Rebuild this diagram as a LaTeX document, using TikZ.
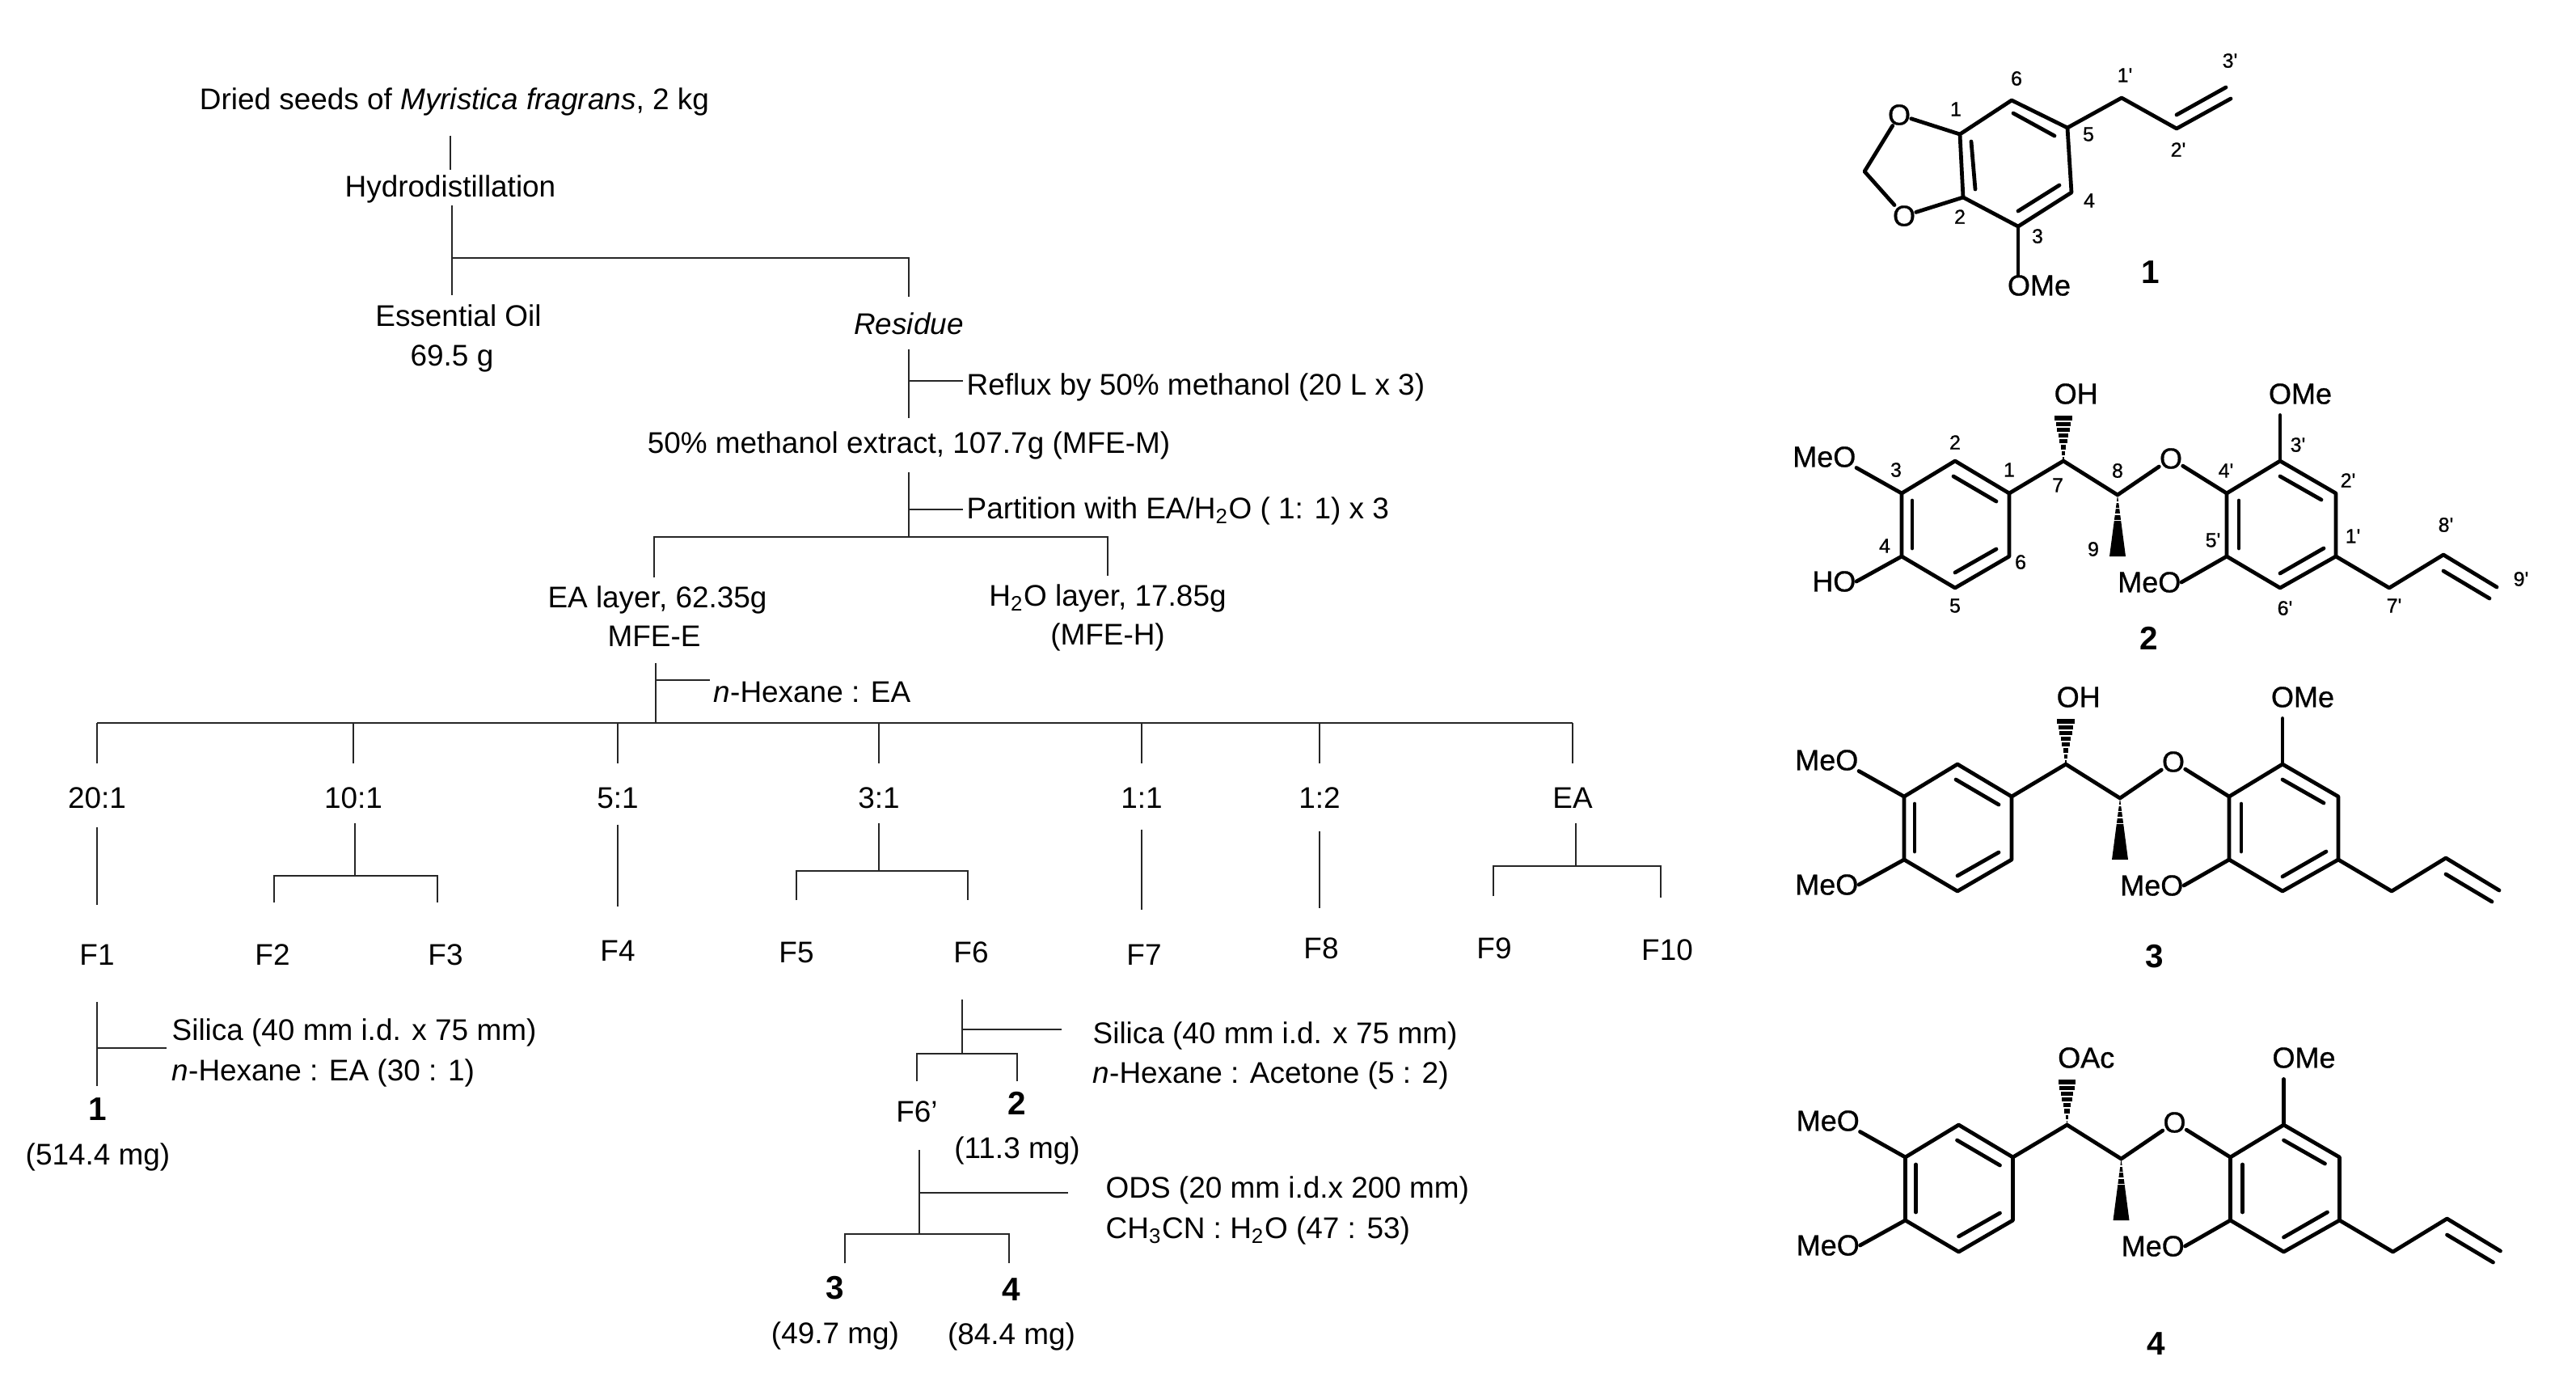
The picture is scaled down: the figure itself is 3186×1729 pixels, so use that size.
\documentclass[tikz,border=0pt]{standalone}
\usepackage{fontspec}
\setmainfont{Liberation Sans}
\newfontfamily\chemfont[FakeBold=0.8]{Liberation Sans}
\tikzset{
    txt/.style={font=\fontsize{10.5}{13}\selectfont, inner xsep=0pt, inner ysep=0.03cm, text height=0.295cm, text depth=0.065cm},
    cpd/.style={txt, font=\fontsize{11.5}{13}\selectfont\bfseries},
    flow/.style={line width=0.55pt, black!85},
    bond/.style={line width=1.35pt, line cap=round, line join=round},
    atm/.style={font=\fontsize{10.24}{12}\selectfont\chemfont, inner sep=0pt},
    num/.style={font=\fontsize{7.1}{9}\selectfont\chemfont, inner sep=0pt}
}
% one lignan: x shift, y shift, prefix, top group, lower left group
\newcommand{\lignan}[5]{
    \begin{scope}[shift={(#1,#2)}, name prefix=#3-]
        \coordinate (c1) at (2485,610); \coordinate (c2) at (2418,570);
        \coordinate (c3) at (2352,610); \coordinate (c4) at (2352,688);
        \coordinate (c5) at (2418,727); \coordinate (c6) at (2485,688);
        \coordinate (c7) at (2552,570); \coordinate (c8) at (2619,612);
        \coordinate (d1) at (2889,688); \coordinate (d2) at (2889,610);
        \coordinate (d3) at (2820,570); \coordinate (d4) at (2754,610);
        \coordinate (d5) at (2754,688); \coordinate (d6) at (2820,727);
        \coordinate (d7) at (2955,727); \coordinate (d8) at (3022,686);
        \coordinate (d9) at (3088,726);
        \node[atm] (ether) at (2685,567) {O};
        \node[atm, anchor=west] (top) at (2540,487) {#4};
        \node[atm] (ome) at (2845,487) {OMe};
        \node[atm, anchor=east] (meoa) at (2296,565) {MeO};
        \node[atm, anchor=east] (meob) at (2296,719) {#5};
        \node[atm, anchor=east] (meoc) at (2698,720) {MeO};
        % Rings and chain
        \draw[bond] (c1) -- (c2) -- (c3) -- (c4) -- (c5) -- (c6) -- cycle;
        \draw[bond] (d1) -- (d2) -- (d3) -- (d4) -- (d5) -- (d6) -- cycle;
        \draw[bond] (c1) -- (c7) -- (c8) -- (ether) -- (d4);
        \draw[bond] (d1) -- (d7) -- (d8) -- (d9);
        \draw[bond] (c3) -- (meoa.south east);
        \draw[bond] (c4) -- (meob.east);
        \draw[bond] (d5) -- (meoc.east);
        \draw[bond, shorten >=0.13cm] (d3) -- (d3 |- ome.south);
        % Double bonds
        \draw[bond] (2416,589) -- (2469,620);
        \draw[bond] (2365,619) -- (2365,678);
        \draw[bond] (2418,708) -- (2469,679);
        \draw[bond] (2820,589) -- (2871,618);
        \draw[bond] (2769,619) -- (2769,678);
        \draw[bond] (2820,709) -- (2874,678);
        \draw[bond] (3022,706) -- (3079,740);
        % Wedges
        \foreach \k in {0,...,7} {
            \pgfmathsetmacro\yy{517+\k*7.2}
            \pgfmathsetmacro\hw{11*(570-\yy)/55}
            \draw[line width=1.5pt] (2552-\hw,\yy) -- (2552+\hw,\yy);
        }
        \fill (c8) -- (2609,688) -- (2629,688) -- cycle;
        \foreach \k in {0,1,2,3}
            \draw[white, line width=0.45pt] (2600,621+\k*7.5) -- (2638,621+\k*7.5);
    \end{scope}
}
\begin{document}
\begin{tikzpicture}[x=0.01cm, y=-0.01cm]
    \useasboundingbox (0,0) rectangle (3186,1729);

    % Top of the scheme
    \node[txt] (dried) at (562,124) {Dried seeds of \textit{Myristica fragrans}, 2 kg};
    \node[txt] (hydro) at (557,232) {Hydrodistillation};
    \node[txt] (oil) at (567,392) {Essential Oil};
    \node[txt] (oilmass) at (559,441) {69.5 g};
    \node[txt] (res) at (1124,402) {\textit{Residue}};
    \node[txt, anchor=west] (reflux) at (1195,477) {Reflux by 50\% methanol (20 L x 3)};
    \node[txt] (extract) at (1124,549) {50\% methanol extract, 107.7g (MFE-M)};
    \node[txt, anchor=west] (part) at (1195,630) {Partition with EA/H\textsubscript{2}O ( 1: 1) x 3};
    \node[txt] (ealayer) at (813,740) {EA layer, 62.35g};
    \node[txt] (mfee) at (809,788) {MFE-E};
    \node[txt] (waterlayer) at (1370,738) {H\textsubscript{2}O layer, 17.85g};
    \node[txt] (mfeh) at (1370,786) {(MFE-H)};
    \node[txt, anchor=west] (hexea) at (882,857) {\textit{n}-Hexane : EA};

    \coordinate (j1) at (559,319);
    \coordinate (j2) at (1124,471);
    \coordinate (j3) at (1124,630);
    \coordinate (j4) at (1124,664);
    \coordinate (j5) at (811,841);
    \coordinate (j6) at (811,894);

    \draw[flow, shorten <=0.22cm] (hydro |- dried.south) -- (hydro.north);
    \draw[flow, shorten >=0.05cm] (j1 |- hydro.south) -- (j1 |- oil.north);
    \draw[flow, shorten >=0.13cm] (j1) -| (res.north);
    \draw[flow, shorten <=0.08cm, shorten >=0.1cm] (res.south) -- (extract.north);
    \draw[flow, shorten >=0.04cm] (j2) -- (j2 -| reflux.west);
    \draw[flow, shorten <=0.13cm] (extract.south) -- (j4);
    \draw[flow, shorten >=0.04cm] (j3) -- (j3 -| part.west);
    \draw[flow, shorten <=0.04cm, shorten >=0.04cm] (mfee |- ealayer.north) |- (j4) -| (waterlayer.north);
    \draw[flow, shorten <=0.1cm] (j6 |- mfee.south) -- (j6);
    \draw[flow, shorten >=0.04cm] (j5) -- (j5 -| hexea.west);

    % Solvent ratios and fractions
    \foreach \n/\x/\lab in {a/120/20:1, b/437/10:1, c/764/5:1, d/1087/3:1, e/1412/1:1, f/1632/1:2, g/1945/EA} {
        \node[txt] (r\n) at (\x,988) {\lab};
        \draw[flow, shorten >=0.22cm] (r\n |- j6) -- (r\n.north);
    }
    \draw[flow] (ra |- j6) -- (rg |- j6);
    \foreach \n/\x/\y in {1/120/1182, 2/337/1182, 3/551/1182, 4/764/1177, 5/985/1179, 6/1201/1179, 7/1415/1182, 8/1634/1174, 9/1848/1174, 10/2062/1176}
        \node[txt] (f\n) at (\x,\y) {F\n};

    % Direct to fraction
    \draw[flow, shorten <=0.13cm, shorten >=0.41cm] (ra.south) -- (ra.south |- f1.north);
    \draw[flow, shorten <=0.1cm, shorten >=0.34cm] (rc.south) -- (rc.south |- f4.north);
    \draw[flow, shorten <=0.16cm, shorten >=0.35cm] (re.south) -- (re.south |- f7.north);
    \draw[flow, shorten <=0.18cm, shorten >=0.29cm] (rf.south) -- (rf.south |- f8.north);

    % Split into two fractions
    \foreach \n/\l/\m/\r/\y/\fl/\fr in {b/339/439/541/1083/f2/f3, d/985/1087/1197/1077/f5/f6, g/1847/1949/2054/1071/f9/f10} {
        \coordinate (\n l) at (\l,\y);
        \coordinate (\n m) at (\m,\y);
        \coordinate (\n r) at (\r,\y);
        \draw[flow, shorten <=0.08cm] (\n m |- r\n.south) -- (\n m);
        \draw[flow, shorten <=0.44cm, shorten >=0.44cm] (\n l |- \fl.north) -- (\n l) -- (\n r) -- (\n r |- \fr.north);
    }

    % F1
    \node[txt, anchor=west] (silicaa) at (212,1275) {Silica (40 mm i.d. x 75 mm)};
    \node[txt, anchor=west] (hexa) at (212,1325) {\textit{n}-Hexane : EA (30 : 1)};
    \node[cpd] (one) at (121,1374) {1};
    \node[txt] (massa) at (121,1429) {(514.4 mg)};
    \coordinate (j7) at (120,1296);
    \draw[flow, shorten <=0.35cm, shorten >=0.09cm] (f1.south) -- (f1.south |- one.north);
    \draw[flow, shorten >=0.06cm] (j7) -- (j7 -| silicaa.west);

    % F6
    \node[txt, anchor=west] (silicab) at (1351,1279) {Silica (40 mm i.d. x 75 mm)};
    \node[txt, anchor=west] (hexb) at (1351,1328) {\textit{n}-Hexane : Acetone (5 : 2)};
    \node[txt] (fsub) at (1134,1376) {F6'};
    \node[cpd] (two) at (1258,1367) {2};
    \node[txt] (massb) at (1258,1421) {(11.3 mg)};
    \coordinate (j8) at (1190,1273);
    \coordinate (j9) at (1190,1303);
    \draw[flow, shorten <=0.35cm] (j9 |- f6.south) -- (j9);
    \draw[flow, shorten >=0.38cm] (j8) -- (j8 -| silicab.west);
    \draw[flow, shorten <=0.17cm, shorten >=0.08cm] (fsub.north) |- (j9) -| (two.north);

    % F6'
    \node[txt, anchor=west] (ods) at (1367,1470) {ODS (20 mm i.d.x 200 mm)};
    \node[txt, anchor=west] (acn) at (1367,1520) {CH\textsubscript{3}CN : H\textsubscript{2}O (47 : 53)};
    \node[cpd] (three) at (1033,1595) {3};
    \node[cpd] (four) at (1251,1597) {4};
    \node[txt] (massc) at (1033,1650) {(49.7 mg)};
    \node[txt] (massd) at (1251,1651) {(84.4 mg)};
    \coordinate (j10) at (1137,1475);
    \coordinate (j11) at (1137,1526);
    \coordinate (p1) at (1045,1526);
    \coordinate (p2) at (1248,1526);
    \draw[flow, shorten <=0.24cm] (j11 |- fsub.south) -- (j11);
    \draw[flow, shorten >=0.46cm] (j10) -- (j10 -| ods.west);
    \draw[flow, shorten <=0.11cm, shorten >=0.13cm] (p1 |- three.north) -- (p1) -- (p2) -- (p2 |- four.north);

    % Compound 1
    \coordinate (a1) at (2424,166); \coordinate (a2) at (2428,244);
    \coordinate (a3) at (2496,280); \coordinate (a4) at (2562,238);
    \coordinate (a5) at (2557,158); \coordinate (a6) at (2488,124);
    \coordinate (ach) at (2306,212); \coordinate (ab) at (2624,121);
    \coordinate (ac) at (2692,159); \coordinate (ad) at (2759,122);
    \node[atm] (oa) at (2349,142) {O};
    \node[atm] (ob) at (2355,267) {O};
    \node[atm] (omea) at (2522,353) {OMe};
    \draw[bond] (a1) -- (a2) -- (a3) -- (a4) -- (a5) -- (a6) -- cycle;
    \draw[bond] (a1) -- (oa) -- (ach) -- (ob) -- (a2);
    \draw[bond] (a5) -- (ab) -- (ac) -- (ad);
    \draw[bond] (a3) -- (a3 |- omea.north);
    \draw[bond] (2438,175) -- (2443,234);
    \draw[bond] (2490,140) -- (2541,168);
    \draw[bond] (2496,261) -- (2547,229);
    \draw[bond] (2692,142) -- (2753,108);
    \foreach \n/\x/\y/\lab in {a/2419/135/1, b/2494/97/6, c/2628/93/1', d/2758/75/3', e/2583/166/5, f/2694/185/2', g/2584/248/4, h/2424/268/2, i/2520/292/3}
        \node[num] (na\n) at (\x,\y) {\lab};
    \node[cpd] (labela) at (2660,339) {1};

    % Compounds 2 to 4
    \lignan{0}{0}{m2}{OH}{HO}
    \lignan{3}{375}{m3}{OH}{MeO}
    \lignan{4.5}{821}{m4}{OAc}{MeO}
    \foreach \n/\x/\y/\lab in {a/2345/581/3, b/2418/547/2, c/2485/581/1, d/2545/600/7, e/2619/582/8, f/2589/679/9, g/2331/675/4, h/2499/695/6, i/2418/749/5, j/2753/582/4', k/2842/550/3', l/2904/594/2', m/2910/663/1', n/2737/668/5', o/2826/752/6', p/2961/749/7', q/3025/649/8', r/3118/716/9'}
        \node[num] (nb\n) at (\x,\y) {\lab};
    \node[cpd] (labelb) at (2658,792) {2};
    \node[cpd] (labelc) at (2665,1185) {3};
    \node[cpd] (labeld) at (2667,1664) {4};
\end{tikzpicture}
\end{document}
